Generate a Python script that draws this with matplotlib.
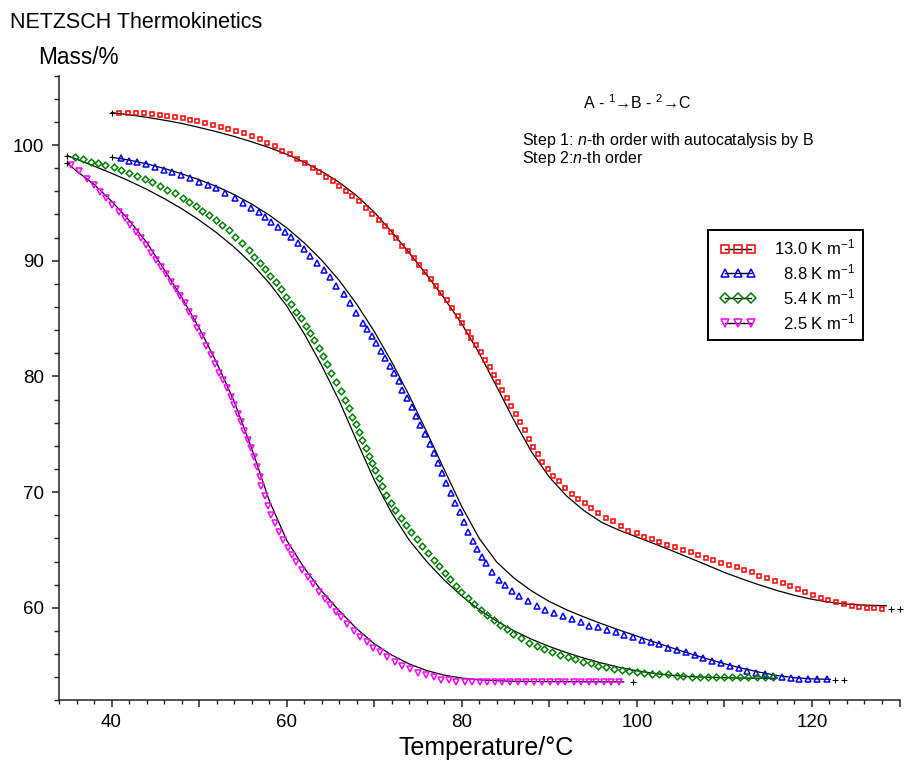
import numpy as np
import matplotlib
matplotlib.use('Agg')
import matplotlib.pyplot as plt
from matplotlib.lines import Line2D
from matplotlib.legend_handler import HandlerLine2D
from matplotlib.ticker import MultipleLocator, FuncFormatter

plt.rcParams['font.family'] = ['Liberation Sans', 'DejaVu Sans']
plt.rcParams['mathtext.fontset'] = 'custom'
plt.rcParams['mathtext.rm'] = 'Liberation Sans'
plt.rcParams['mathtext.it'] = 'Liberation Sans:italic'

# ---- measured points (read off the picture) ----
# 13.0 K/min
t_red = [40.91, 41.86, 42.82, 43.69, 44.61, 45.49, 46.37, 47.28, 48.15, 48.91, 49.79, 50.66, 51.58, 52.46,
         53.34, 54.25, 55.12, 56.0, 56.91, 57.79, 58.63, 59.46, 60.34, 61.22, 62.14, 63.01, 63.69, 64.54,
         65.29, 65.98, 66.74, 67.51, 68.26, 69.03, 69.75, 70.51, 71.2, 71.97, 72.54, 73.22, 73.86, 74.55,
         75.12, 75.77, 76.46, 77.03, 77.68, 78.32, 78.94, 79.58, 80.08, 80.72, 81.11, 81.68, 82.17, 82.71,
         83.2, 83.69, 84.15, 84.65, 85.18, 85.68, 86.17, 86.71, 87.2, 87.69, 88.19, 88.69, 89.17, 89.86,
         90.4, 91.09, 91.85, 92.54, 93.29, 94.06, 94.82, 95.58, 96.46, 97.29, 98.17, 99.01, 99.97, 100.83,
         101.71, 102.55, 103.46, 104.34, 105.22, 106.14, 107.01, 107.89, 108.72, 109.6, 110.48, 111.39,
         112.26, 113.11, 113.98, 114.82, 115.77, 116.65, 117.49, 118.37, 119.23, 120.15, 121.03, 121.86,
         122.74, 123.66, 124.54, 125.41, 126.25, 127.12, 128.0]
m_red = [102.74, 102.79, 102.79, 102.74, 102.68, 102.62, 102.53, 102.45, 102.31, 102.16, 102.05, 101.88,
         101.73, 101.58, 101.38, 101.18, 101.01, 100.78, 100.52, 100.15, 99.91, 99.5, 99.2, 98.82, 98.42,
         98.04, 97.64, 97.26, 96.89, 96.48, 96.05, 95.59, 95.19, 94.58, 94.04, 93.52, 93.03, 92.45, 91.94,
         91.3, 90.84, 90.21, 89.63, 89.05, 88.42, 87.84, 87.18, 86.6, 85.89, 85.22, 84.59, 83.86, 83.29,
         82.71, 82.08, 81.42, 80.84, 80.12, 79.54, 78.87, 78.16, 77.44, 76.75, 76.02, 75.34, 74.63, 73.9,
         73.27, 72.58, 71.97, 71.39, 70.92, 70.33, 69.84, 69.4, 69.03, 68.6, 68.22, 67.79, 67.5, 67.1,
         66.66, 66.44, 66.15, 65.95, 65.71, 65.43, 65.23, 65.0, 64.8, 64.56, 64.33, 64.13, 63.9, 63.7,
         63.5, 63.27, 63.07, 62.77, 62.6, 62.32, 62.12, 61.88, 61.62, 61.34, 61.11, 60.87, 60.67, 60.47,
         60.3, 60.15, 60.04, 60.01, 59.96, 59.9]

# 8.8 K/min
t_blue = [41.03, 41.98, 42.94, 43.97, 44.95, 45.94, 46.91, 47.92, 48.95, 49.98, 51.01, 51.97, 53.0, 54.06,
          55.01, 55.97, 56.8, 57.49, 58.25, 59.01, 59.77, 60.46, 61.29, 61.94, 62.71, 63.51, 64.23, 64.91,
          65.68, 66.51, 67.28, 67.97, 68.72, 69.22, 69.79, 70.25, 70.74, 71.2, 71.77, 72.23, 72.8, 73.22,
          73.75, 74.32, 74.82, 75.28, 75.85, 76.34, 76.8, 77.29, 77.79, 78.25, 78.74, 79.28, 79.77, 80.26,
          80.72, 81.29, 81.75, 82.32, 82.74, 83.51, 84.26, 84.97, 85.79, 86.59, 87.54, 88.54, 89.54, 90.54,
          91.51, 92.54, 93.57, 94.55, 95.58, 96.54, 97.57, 98.57, 99.53, 100.54, 101.57, 102.55, 103.58,
          104.61, 105.6, 106.63, 107.58, 108.61, 109.6, 110.63, 111.62, 112.61, 113.6, 114.63, 115.58,
          116.57, 117.57, 118.55, 119.58, 120.61, 121.68]
m_blue = [98.85, 98.64, 98.49, 98.33, 98.12, 97.88, 97.65, 97.41, 97.17, 96.83, 96.54, 96.26, 95.88, 95.39,
          95.01, 94.58, 94.24, 93.8, 93.37, 92.94, 92.51, 92.02, 91.5, 91.01, 90.41, 89.83, 89.2, 88.57,
          87.81, 87.1, 86.32, 85.45, 84.64, 84.07, 83.49, 82.86, 82.22, 81.56, 80.92, 80.27, 79.58, 78.82,
          78.11, 77.33, 76.6, 75.8, 75.02, 74.16, 73.35, 72.49, 71.62, 70.76, 69.95, 69.08, 68.25, 67.39,
          66.58, 65.8, 65.08, 64.42, 63.85, 63.12, 62.4, 61.94, 61.43, 60.99, 60.55, 60.16, 59.84, 59.58,
          59.29, 59.03, 58.8, 58.45, 58.31, 58.05, 57.87, 57.68, 57.48, 57.25, 57.04, 56.84, 56.55, 56.35,
          56.15, 55.92, 55.63, 55.4, 55.2, 54.97, 54.77, 54.56, 54.34, 54.25, 54.11, 54.04, 53.91, 53.85,
          53.85, 53.82, 53.82]

# 5.4 K/min
t_green = [35.85, 36.72, 37.6, 38.51, 39.31, 40.23, 41.11, 41.98, 42.89, 43.77, 44.65, 45.49, 46.37, 47.28,
           48.15, 48.83, 49.6, 50.37, 51.12, 51.89, 52.65, 53.39, 54.14, 54.89, 55.66, 56.26, 56.91, 57.49,
           58.14, 58.74, 59.39, 59.97, 60.54, 61.11, 61.68, 62.17, 62.71, 63.12, 63.66, 64.15, 64.61, 65.11,
           65.6, 66.17, 66.63, 67.09, 67.51, 67.89, 68.26, 68.65, 69.03, 69.41, 69.79, 70.14, 70.51, 70.91,
           71.31, 71.89, 72.42, 73.03, 73.6, 74.25, 74.89, 75.51, 76.15, 76.8, 77.41, 78.06, 78.71, 79.31,
           79.89, 80.69, 81.45, 82.17, 82.89, 83.66, 84.42, 85.14, 85.86, 86.77, 87.69, 88.54, 89.41, 90.32,
           91.2, 92.08, 92.99, 93.86, 94.71, 95.58, 96.46, 97.37, 98.25, 99.12, 99.97, 100.83, 101.7, 102.55,
           103.58, 104.54, 105.29, 106.25, 107.2, 108.08, 109.03, 109.94, 110.89, 111.77, 112.72, 113.68,
           114.63, 115.58]
m_green = [98.94, 98.76, 98.56, 98.42, 98.27, 98.07, 97.84, 97.55, 97.32, 97.04, 96.78, 96.48, 96.11, 95.83,
           95.39, 95.1, 94.73, 94.32, 93.95, 93.52, 93.09, 92.63, 92.07, 91.5, 90.92, 90.35, 89.83, 89.26,
           88.7, 88.13, 87.53, 86.89, 86.26, 85.59, 85.02, 84.38, 83.78, 83.15, 82.43, 81.76, 81.05, 80.27,
           79.54, 78.74, 77.96, 77.24, 76.52, 75.86, 75.17, 74.5, 73.84, 73.15, 72.54, 71.91, 71.19, 70.57,
           69.78, 69.03, 68.43, 67.79, 67.19, 66.53, 65.95, 65.37, 64.78, 64.17, 63.59, 63.03, 62.46, 61.91,
           61.39, 60.85, 60.31, 59.84, 59.38, 58.95, 58.51, 58.15, 57.76, 57.39, 56.98, 56.72, 56.44, 56.15,
           55.92, 55.72, 55.55, 55.34, 55.2, 55.0, 54.88, 54.74, 54.62, 54.55, 54.48, 54.37, 54.31, 54.28,
           54.25, 54.13, 54.1, 54.04, 54.04, 54.04, 53.99, 53.99, 53.99, 53.99, 53.99, 53.99, 53.99, 53.99]

# 2.5 K/min
t_mag = [35.39, 36.26, 37.18, 37.98, 38.71, 39.39, 40.08, 40.83, 41.49, 42.06, 42.74, 43.31, 43.89, 44.54,
         45.11, 45.68, 46.21, 46.74, 47.31, 47.77, 48.34, 48.83, 49.41, 49.79, 50.37, 50.82, 51.39, 51.77,
         52.23, 52.72, 53.22, 53.63, 54.02, 54.43, 54.82, 55.17, 55.54, 55.92, 56.29, 56.63, 56.91, 57.11,
         57.49, 57.86, 58.25, 58.63, 59.09, 59.58, 60.15, 60.61, 61.11, 61.75, 62.43, 63.01, 63.69, 64.34,
         64.99, 65.6, 66.17, 66.89, 67.66, 68.42, 69.14, 69.86, 70.63, 71.51, 72.34, 73.22, 74.06, 75.01,
         75.89, 76.8, 77.68, 78.55, 79.39, 80.34, 81.18, 82.06, 82.94, 83.77, 84.65, 85.53, 86.48, 87.36,
         88.27, 89.14, 90.05, 90.96, 91.84, 92.79, 93.63, 94.5, 95.39, 96.26, 97.09, 97.97]
m_mag = [98.27, 97.78, 97.06, 96.54, 95.96, 95.39, 94.81, 94.24, 93.66, 93.09, 92.51, 91.94, 91.36, 90.69,
         90.06, 89.46, 88.85, 88.18, 87.55, 86.95, 86.32, 85.59, 84.94, 84.21, 83.49, 82.65, 81.85, 81.05,
         80.32, 79.69, 78.97, 78.25, 77.53, 76.75, 76.03, 75.28, 74.53, 73.79, 73.0, 72.17, 71.33, 70.53,
         69.66, 68.8, 68.02, 67.3, 66.53, 65.86, 65.14, 64.56, 63.98, 63.27, 62.64, 62.06, 61.39, 60.76,
         60.24, 59.66, 59.18, 58.57, 58.02, 57.5, 57.04, 56.57, 56.14, 55.75, 55.36, 55.01, 54.71, 54.41,
         54.19, 53.98, 53.8, 53.72, 53.63, 53.59, 53.57, 53.57, 53.57, 53.57, 53.57, 53.57, 53.57, 53.57,
         53.57, 53.57, 53.57, 53.57, 53.57, 53.57, 53.57, 53.57, 53.57, 53.57, 53.57, 53.57]

# ---- fitted curves (black lines) ----
fit_t_red = [40, 42, 44, 46, 48, 50, 52, 54, 56, 58, 60, 62, 64, 66, 68, 70, 72, 74, 76, 78, 80, 82, 84,
             86, 88, 90, 92, 94, 96, 98, 100, 102, 104, 106, 108, 110, 112, 114, 116, 118, 120, 122, 124,
             126, 128.5]
fit_m_red = [102.8, 102.62, 102.4, 102.15, 101.87, 101.52, 101.15, 100.74, 100.28, 99.78, 99.2, 98.52,
             97.72, 96.78, 95.62, 94.2, 92.5, 90.68, 88.78, 86.75, 84.55, 82.0, 79.1, 76.15, 73.45, 71.3,
             69.65, 68.38, 67.38, 66.7, 66.12, 65.54, 64.94, 64.32, 63.7, 63.06, 62.5, 61.98, 61.5, 61.08,
             60.74, 60.48, 60.32, 60.24, 60.18]

fit_t_blue = [40, 42, 44, 46, 48, 50, 52, 54, 56, 58, 60, 62, 64, 66, 68, 70, 72, 74, 76, 78, 80, 82, 84,
              86, 88, 90, 92, 94, 96, 98, 100, 102, 104, 106, 108, 110, 112, 114, 116, 118, 120, 122.1]
fit_m_blue = [98.94, 98.7, 98.38, 97.98, 97.52, 97.0, 96.42, 95.72, 94.9, 93.95, 92.85, 91.55, 90.05, 88.3,
              86.25, 83.9, 81.25, 78.35, 75.2, 71.95, 68.75, 66.0, 63.95, 62.55, 61.45, 60.55, 59.82, 59.2,
              58.62, 58.08, 57.56, 57.04, 56.54, 56.06, 55.6, 55.17, 54.78, 54.44, 54.15, 53.96, 53.86,
              53.82]

fit_t_green = [34.94, 36, 38, 40, 42, 44, 46, 48, 50, 52, 54, 56, 58, 60, 62, 64, 66, 68, 70, 72, 74, 76,
               78, 80, 82, 84, 86, 88, 90, 92, 94, 96, 98, 100, 102, 104, 106, 108, 110, 112, 114, 116]
fit_m_green = [99.08, 98.78, 98.18, 97.56, 96.9, 96.18, 95.38, 94.5, 93.52, 92.42, 91.18, 89.75, 88.08,
               86.1, 83.7, 80.95, 77.9, 74.45, 71.05, 68.2, 65.85, 64.0, 62.4, 61.02, 59.83, 58.85, 58.0,
               57.28, 56.66, 56.12, 55.64, 55.22, 54.86, 54.56, 54.33, 54.17, 54.06, 54.0, 53.96, 53.93,
               53.91, 53.9]

fit_t_mag = [34.94, 36, 38, 40, 42, 44, 46, 48, 50, 52, 54, 56, 58, 60, 62, 64, 66, 68, 70, 72, 74, 76, 78,
             80, 82, 84, 86, 90, 98.5]
fit_m_mag = [98.42, 97.75, 96.6, 95.15, 93.5, 91.6, 89.25, 86.85, 84.2, 81.2, 77.85, 73.8, 69.3, 65.85,
             63.45, 61.45, 59.75, 58.2, 56.9, 55.92, 55.15, 54.58, 54.18, 53.93, 53.78, 53.7, 53.65, 53.62,
             53.6]

# start / end crosses of the fits
cross_t = [40.0, 129.0, 130.0, 40.0, 122.6, 123.7, 34.94, 34.94, 99.6]
cross_m = [102.8, 59.9, 59.9, 98.94, 53.76, 53.76, 99.08, 98.42, 53.61]

labels = ['13.0 K m$^{-1}$', '\u20078.8 K m$^{-1}$', '\u20075.4 K m$^{-1}$', '\u20072.5 K m$^{-1}$']
colors = ['#ff0000', '#0000ff', '#008000', '#ff00ff']
markers = ['s', '^', 'D', 'v']
msizes = [3.5, 4.2, 3.4, 4.2]

fig = plt.figure(figsize=(9.12, 7.61), dpi=100)
ax = fig.add_axes([59 / 912, 1 - 700.4 / 761, 840.5 / 912, 624.8 / 761])

series = [(t_red, m_red, fit_t_red, fit_m_red),
          (t_blue, m_blue, fit_t_blue, fit_m_blue),
          (t_green, m_green, fit_t_green, fit_m_green),
          (t_mag, m_mag, fit_t_mag, fit_m_mag)]

for (t, m, ft, fm), c, mk, ms in zip(series, colors, markers, msizes):
    ax.plot(ft, fm, color='black', lw=0.9, zorder=2)
    ax.plot(t, m, ls='none', marker=mk, mfc='none', mec=c, ms=ms, mew=1.1, zorder=3)

ax.plot(cross_t, cross_m, ls='none', marker='+', color='black', ms=4, mew=0.8, clip_on=False, zorder=4)

ax.set_xlim(34, 130)
ax.set_ylim(52, 106)
for s in ['top', 'right']:
    ax.spines[s].set_visible(False)
for s in ['left', 'bottom']:
    ax.spines[s].set_linewidth(1.1)
    ax.spines[s].set_color('#222222')

ax.xaxis.set_major_locator(MultipleLocator(10))
ax.xaxis.set_minor_locator(MultipleLocator(2))
ax.xaxis.set_major_formatter(FuncFormatter(lambda v, p: '%d' % v if int(round(v)) % 20 == 0 else ''))
ax.yaxis.set_major_locator(MultipleLocator(10))
ax.yaxis.set_minor_locator(MultipleLocator(2))
ax.tick_params(axis='both', which='major', direction='out', length=5, width=1.1, labelsize=13.5,
               color='#222222')
ax.tick_params(axis='x', which='minor', direction='out', length=2.6, width=1.0, color='#222222')
ax.tick_params(axis='y', which='minor', direction='out', length=3.5, width=1.0, color='#222222')
ax.tick_params(axis='x', which='major', pad=5)
ax.tick_params(axis='y', which='major', pad=6)

fig.text(10 / 912, 1 - 22 / 761, 'NETZSCH Thermokinetics', fontsize=15.5, va='center', ha='left')
fig.text(38 / 912, 1 - 57 / 761, 'Mass/%', fontsize=16.3, va='center', ha='left')
fig.text(486 / 912, 1 - 748 / 761, 'Temperature/\u00b0C', fontsize=18, va='center', ha='center')

fig.text(583 / 912, 1 - 103 / 761, 'A - $^{1}$\u2192B - $^{2}$\u2192C', fontsize=11.5, va='center', ha='left')
fig.text(522 / 912, 1 - 140 / 761, 'Step 1: $n$-th order with autocatalysis by B', fontsize=11.5,
         va='center', ha='left')
fig.text(522 / 912, 1 - 158 / 761, 'Step 2:$n$-th order', fontsize=11.5, va='center', ha='left')

handles = [Line2D([], [], color='black', lw=1.0, marker=mk, mfc='none', mec=c, ms=ms, mew=1.1)
           for c, mk, ms in zip(colors, markers, msizes)]
leg = fig.legend(handles, labels, loc='upper left', bbox_to_anchor=(708 / 912, 1 - 230 / 761),
                 fontsize=12, numpoints=3, markerscale=1.5, handlelength=2.7, handletextpad=0.8,
                 labelspacing=0.3, borderpad=0.45, fancybox=False, framealpha=1, edgecolor='black',
                 borderaxespad=0, handler_map={h: HandlerLine2D(marker_pad=0.55) for h in handles})
leg.get_frame().set_linewidth(1.4)

fig.savefig('out.png', dpi=100)
